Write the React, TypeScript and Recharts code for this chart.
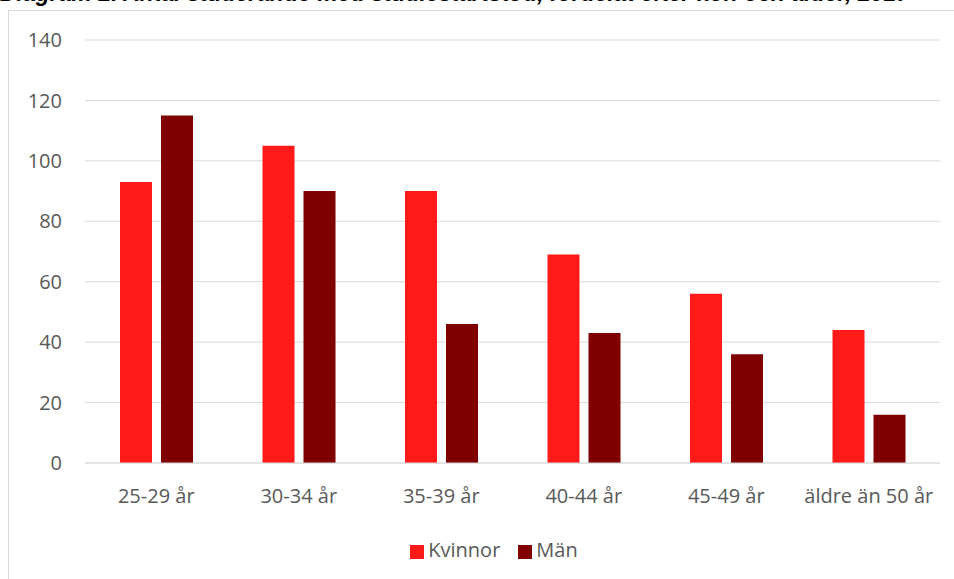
import { BarChart, Bar, XAxis, YAxis, CartesianGrid, Legend } from "recharts";

const categories = ["25-29 år", "30-34 år", "35-39 år", "40-44 år", "45-49 år", "äldre än 50 år"];
const kvinnor = [93, 105, 90, 69, 56, 44];
const man = [115, 90, 46, 43, 36, 16];
const yTicks = [0, 20, 40, 60, 80, 100, 120, 140];

const data = categories.map((c, i) => ({ name: c, Kvinnor: kvinnor[i], "Män": man[i] }));

const font = "'Open Sans', 'Noto Sans', sans-serif";

export default function App() {
    return (
        <div style={{ position: "absolute", left: 0, top: 0, width: 954, height: 579, overflow: "hidden", background: "#fff", fontFamily: font }}>
            <div style={{ position: "absolute", left: 0, top: -20, fontSize: 23, fontWeight: "bold", fontStyle: "italic", fontFamily: "'Liberation Sans', sans-serif", whiteSpace: "nowrap", color: "#000" }}>
                Diagram 2. Antal studerande med studiestartstöd, fördelat efter kön och ålder, 2017
            </div>
            <div style={{ position: "absolute", left: 8, top: 10, width: 960, height: 600, border: "1px solid #d9d9d9" }} />
            <div style={{ position: "absolute", left: 0, top: 0 }}>
                <BarChart
                    width={954}
                    height={579}
                    data={data}
                    margin={{ top: 40, right: 14, left: 0, bottom: 16 }}
                    barCategoryGap="24.5%"
                    barGap={9}
                >
                    <CartesianGrid vertical={false} stroke="#d9d9d9" />
                    <XAxis
                        dataKey="name"
                        axisLine={{ stroke: "#d9d9d9" }}
                        tickLine={false}
                        tickMargin={20}
                        height={73}
                        tick={{ fill: "#595959", fontSize: 20, fontFamily: font }}
                        interval={0}
                    />
                    <YAxis
                        width={85}
                        domain={[0, 140]}
                        ticks={yTicks}
                        axisLine={false}
                        tickLine={false}
                        tickMargin={17}
                        tick={{ fill: "#595959", fontSize: 20, fontFamily: font }}
                    />
                    <Legend
                        verticalAlign="bottom"
                        iconType="square"
                        iconSize={14}
                        wrapperStyle={{ left: 18, width: 970, fontSize: 20, fontFamily: font, color: "#595959" }}
                        formatter={(v: string) => <span style={{ color: "#595959", marginRight: 8 }}>{v}</span>}
                    />
                    <Bar dataKey="Kvinnor" fill="#ff1a1a" barSize={32} isAnimationActive={false} />
                    <Bar dataKey="Män" fill="#800000" barSize={32} isAnimationActive={false} />
                </BarChart>
            </div>
        </div>
    );
}
